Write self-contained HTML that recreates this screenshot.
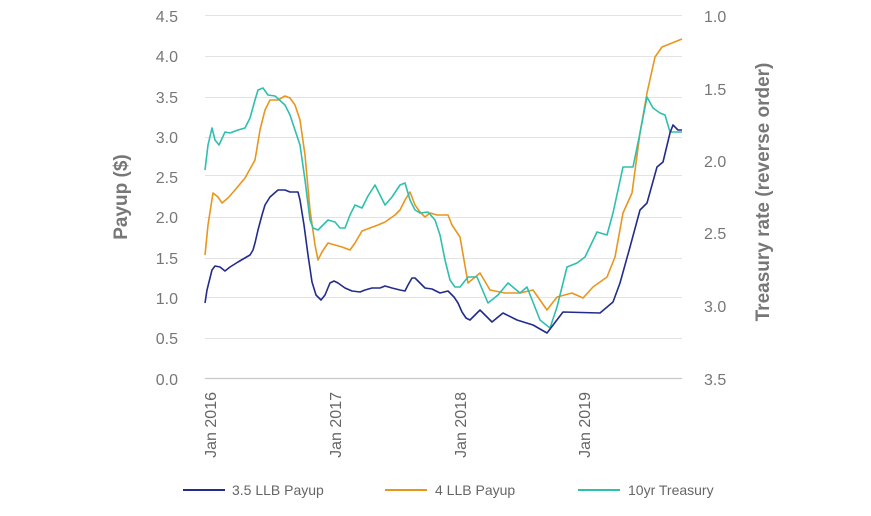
<!DOCTYPE html><html><head><style>body{margin:0;background:#fff}svg{font-family:"Liberation Sans",sans-serif}</style></head><body>
<svg width="871" height="511" viewBox="0 0 871 511">
<g stroke="#e3e3e3" stroke-width="1">
<line x1="205" x2="682" y1="15.5" y2="15.5"/><line x1="205" x2="682" y1="56.5" y2="56.5"/><line x1="205" x2="682" y1="97.5" y2="97.5"/><line x1="205" x2="682" y1="137.5" y2="137.5"/><line x1="205" x2="682" y1="175.5" y2="175.5"/><line x1="205" x2="682" y1="217.5" y2="217.5"/><line x1="205" x2="682" y1="258.5" y2="258.5"/><line x1="205" x2="682" y1="297.5" y2="297.5"/><line x1="205" x2="682" y1="338.5" y2="338.5"/></g>
<line x1="205" x2="682" y1="378.5" y2="378.5" stroke="#c8c8c8" stroke-width="1.2"/>
<g fill="#777" font-size="16" text-anchor="end">
<text x="178" y="22">4.5</text><text x="178" y="62">4.0</text><text x="178" y="103">3.5</text><text x="178" y="143">3.0</text><text x="178" y="183">2.5</text><text x="178" y="223">2.0</text><text x="178" y="264">1.5</text><text x="178" y="304">1.0</text><text x="178" y="344">0.5</text><text x="178" y="385">0.0</text></g>
<g fill="#777" font-size="16">
<text x="704" y="22">1.0</text><text x="704" y="95">1.5</text><text x="704" y="167">2.0</text><text x="704" y="239">2.5</text><text x="704" y="312">3.0</text><text x="704" y="385">3.5</text></g>
<text transform="translate(127,197) rotate(-90)" text-anchor="middle" fill="#777" font-size="19" font-weight="bold">Payup ($)</text>
<text transform="translate(769,192) rotate(-90)" text-anchor="middle" fill="#777" font-size="19" font-weight="bold">Treasury rate (reverse order)</text>
<g fill="#666" font-size="16" text-anchor="end">
<text transform="translate(216,392) rotate(-90)">Jan 2016</text><text transform="translate(341,392) rotate(-90)">Jan 2017</text><text transform="translate(466,392) rotate(-90)">Jan 2018</text><text transform="translate(590,392) rotate(-90)">Jan 2019</text></g>
<g fill="none" stroke-width="1.6" stroke-linejoin="round">
<polyline stroke="#e8961e" points="205,255 208,225 213,193 218,197 222,203 228,198 235,190 245,178 255,160 260,130 265,110 270,100 278,100 285,96 290,98 295,105 300,120 305,155 310,210 315,245 318,260 322,252 328,243 335,245 342,247 350,250 355,243 362,231 370,228 378,225 385,222 395,215 400,210 405,200 410,192 415,205 420,212 425,217 430,213 437,215 448,215 452,225 460,237 468,283 480,273 490,290 505,293 520,293 533,290 547,310 557,297 572,293 583,298 593,287 607,277 615,257 623,213 632,193 640,133 647,93 655,57 662,47 682,39"/>
<polyline stroke="#2ebfae" points="205,170 208,145 212,128 215,140 219,145 225,132 230,133 238,130 245,128 250,118 255,100 258,90 263,88 268,95 275,96 285,105 290,115 300,145 305,180 310,220 313,228 318,230 323,225 328,220 335,222 340,228 345,228 350,215 355,205 362,208 368,196 375,185 380,195 385,205 392,197 400,185 405,183 410,200 415,210 420,213 428,212 435,220 440,235 445,260 450,280 455,287 460,287 468,277 477,277 488,303 498,295 508,283 520,293 527,287 540,320 550,328 557,307 567,267 577,263 585,257 597,232 607,235 613,213 623,167 633,167 640,133 647,97 653,108 660,113 665,115 670,132 682,132"/>
<polyline stroke="#232c8a" points="205,303 207,290 212,270 215,266 220,267 225,271 230,267 238,262 250,255 253,250 255,243 258,230 262,215 265,205 270,197 278,190 285,190 290,192 298,192 300,200 304,225 308,255 312,282 316,295 321,300 325,295 330,283 334,281 338,283 345,288 352,291 360,292 365,290 372,288 380,288 385,286 392,288 400,290 405,291 408,285 412,278 415,278 420,283 425,288 432,289 440,293 448,291 454,297 458,303 462,312 466,318 470,320 480,310 492,322 503,313 517,320 533,325 547,333 563,312 600,313 613,302 620,283 630,247 640,210 647,203 657,167 663,162 670,133 673,125 678,130 682,130"/>
</g>
<line x1="183" x2="225" y1="490" y2="490" stroke="#232c8a" stroke-width="2"/>
<line x1="385" x2="427" y1="490" y2="490" stroke="#e8961e" stroke-width="2"/>
<line x1="578" x2="620" y1="490" y2="490" stroke="#2ebfae" stroke-width="2"/>
<g fill="#666" font-size="14"><text x="232" y="495">3.5 LLB Payup</text><text x="435" y="495">4 LLB Payup</text><text x="628" y="495">10yr Treasury</text></g>
</svg></body></html>
